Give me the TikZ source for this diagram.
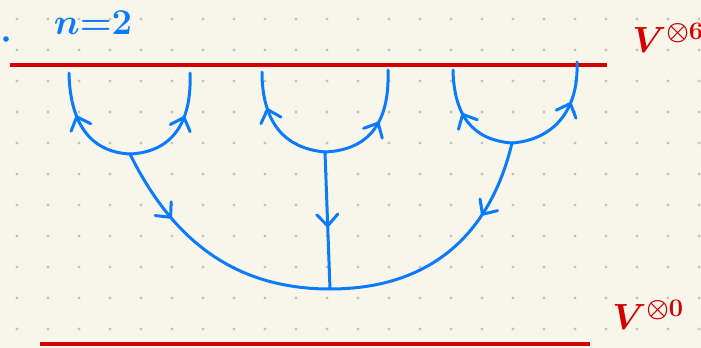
\documentclass[tikz,border=0pt]{standalone}
\usetikzlibrary{arrows.meta,decorations.markings}
\definecolor{papel}{RGB}{248,246,235}
\definecolor{tinta}{RGB}{10,122,255}
\definecolor{rojo}{RGB}{212,0,0}
\definecolor{punto}{RGB}{198,196,188}
\begin{document}
\begin{tikzpicture}[x=0.02cm, y=-0.02cm,
    hilo/.style={tinta, line width=1.7pt, line cap=round},
    nivel/.style={rojo, line width=1.9pt},
    rotulo/.style={rojo, anchor=base west, inner sep=0pt, font=\fontsize{21}{25}\selectfont\boldmath},
    flecha/.style={postaction={decorate}, decoration={markings,
        mark=at position #1 with {\arrow{Straight Barb[round, length=6.5pt, width=12pt]}}}}]
    % Fondo
    \fill[papel] (0,0) rectangle (701,348);
    \useasboundingbox (0,0) rectangle (701,348);
    % Cuadrícula de puntos
    \foreach \i in {0,...,22}
        \foreach \j in {0,...,10}
            \fill[punto] (17+31*\i, 19+31*\j) circle (0.9pt);
    % Niveles
    \coordinate (arribaI) at (10,65);
    \coordinate (arribaD) at (607,65);
    \coordinate (abajoI) at (40,344);
    \coordinate (abajoD) at (590,344);
    \draw[nivel] (arribaI) -- (arribaD);
    \draw[nivel] (abajoI) -- (abajoD);
    % Etiquetas
    \node[tinta, font=\fontsize{20}{24}\selectfont\boldmath] (ene) at (93,23) {$n{=}2$};
    \fill[tinta] (6,39) circle (1.6pt);
    \node[rotulo] (vseis) at (632,53) {$V^{\otimes 6}$};
    \node[rotulo] (vcero) at (612,330) {$V^{\otimes 0}$};
    % Vértices y extremos
    \coordinate (v1) at (130,154);
    \coordinate (v2) at (325,152);
    \coordinate (v3) at (512,143);
    \coordinate (j) at (330,289);
    \coordinate (a1) at (69,73);
    \coordinate (b1) at (190,73);
    \coordinate (a2) at (262,72);
    \coordinate (b2) at (388,70);
    \coordinate (a3) at (453,70);
    \coordinate (b3) at (577,62);
    % Copas
    \draw[hilo, flecha=0.62] (v1) .. controls +(-40,-2) and +(1,50) .. (a1);
    \draw[hilo, flecha=0.62] (v1) .. controls +(42,-2) and +(2,50) .. (b1);
    \draw[hilo, flecha=0.68] (v2) .. controls +(-45,-4) and +(0,45) .. (a2);
    \draw[hilo, flecha=0.55] (v2) .. controls +(42,-2) and +(2,55) .. (b2);
    \draw[hilo, flecha=0.58] (v3) .. controls +(-40,-3) and +(1,45) .. (a3);
    \draw[hilo, flecha=0.65] (v3) .. controls +(40,-3) and +(2,50) .. (b3);
    % Tallos
    \draw[hilo, flecha=0.3] (v1) .. controls +(40,81) and +(-100,0) .. (j);
    \draw[hilo, flecha=0.55] (v2) -- (j);
    \draw[hilo, flecha=0.31] (v3) .. controls +(-22,92) and +(100,0) .. (j);
\end{tikzpicture}
\end{document}
